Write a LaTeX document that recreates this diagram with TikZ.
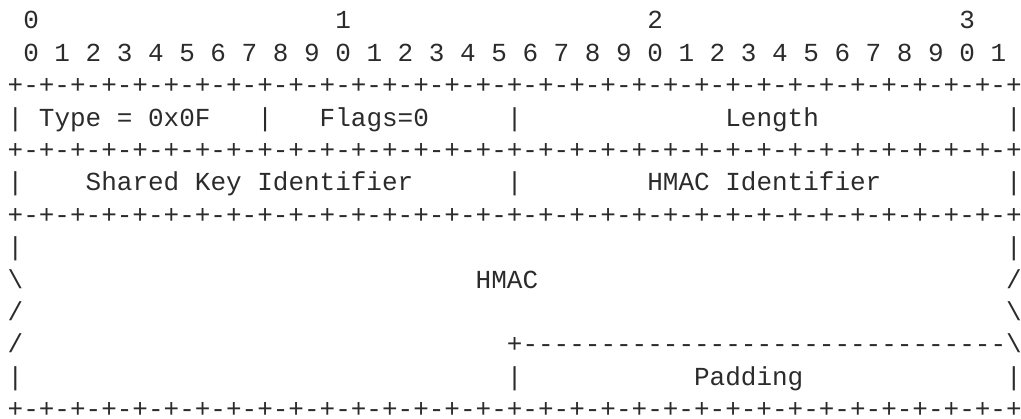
\documentclass[tikz,border=0pt]{standalone}
\usepackage{fontspec}
\setmonofont{Liberation Mono}
\definecolor{ink}{HTML}{2B2B2B}
\tikzset{
  tok/.style={anchor=base west, inner sep=0pt, outer sep=0pt, text=ink,
    font=\ttfamily\fontsize{26}{32}\selectfont}
}
% #1 name, #2 line (1..13), #3 column, #4 text
\newcommand\tok[4]{\node[tok] (#1) at ({7.7+15.6*#3},{-29-32.4*(#2-1)}) {#4};}
\newcommand\rulerow{+-+-+-+-+-+-+-+-+-+-+-+-+-+-+-+-+-+-+-+-+-+-+-+-+-+-+-+-+-+-+-+-+}
\begin{document}
\begin{tikzpicture}[x=1pt,y=1pt]
\useasboundingbox (0,0) rectangle (1021,-419);
% line 1: byte offsets
\tok{o0}{1}{1}{0}
\tok{o1}{1}{21}{1}
\tok{o2}{1}{41}{2}
\tok{o3}{1}{61}{3}
% line 2: bit numbers
\tok{bits}{2}{1}{0 1 2 3 4 5 6 7 8 9 0 1 2 3 4 5 6 7 8 9 0 1 2 3 4 5 6 7 8 9 0 1}
% line 3
\tok{r1}{3}{0}{\rulerow}
% line 4
\tok{b4a}{4}{0}{|}
\tok{type}{4}{2}{Type = 0x0F}
\tok{b4b}{4}{16}{|}
\tok{flags}{4}{20}{Flags=0}
\tok{b4c}{4}{32}{|}
\tok{len}{4}{46}{Length}
\tok{b4d}{4}{64}{|}
% line 5
\tok{r2}{5}{0}{\rulerow}
% line 6
\tok{b6a}{6}{0}{|}
\tok{skid}{6}{5}{Shared Key Identifier}
\tok{b6b}{6}{32}{|}
\tok{hmacid}{6}{41}{HMAC Identifier}
\tok{b6c}{6}{64}{|}
% line 7
\tok{r3}{7}{0}{\rulerow}
% line 8
\tok{b8a}{8}{0}{|}
\tok{b8b}{8}{64}{|}
% line 9
\tok{b9a}{9}{0}{\textbackslash}
\tok{hmac}{9}{30}{HMAC}
\tok{b9b}{9}{64}{/}
% line 10
\tok{b10a}{10}{0}{/}
\tok{b10b}{10}{64}{\textbackslash}
% line 11
\tok{b11a}{11}{0}{/}
\tok{padtop}{11}{32}{+-------------------------------\textbackslash}
% line 12
\tok{b12a}{12}{0}{|}
\tok{b12b}{12}{32}{|}
\tok{pad}{12}{44}{Padding}
\tok{b12c}{12}{64}{|}
% line 13
\tok{r4}{13}{0}{\rulerow}
\end{tikzpicture}
\end{document}
